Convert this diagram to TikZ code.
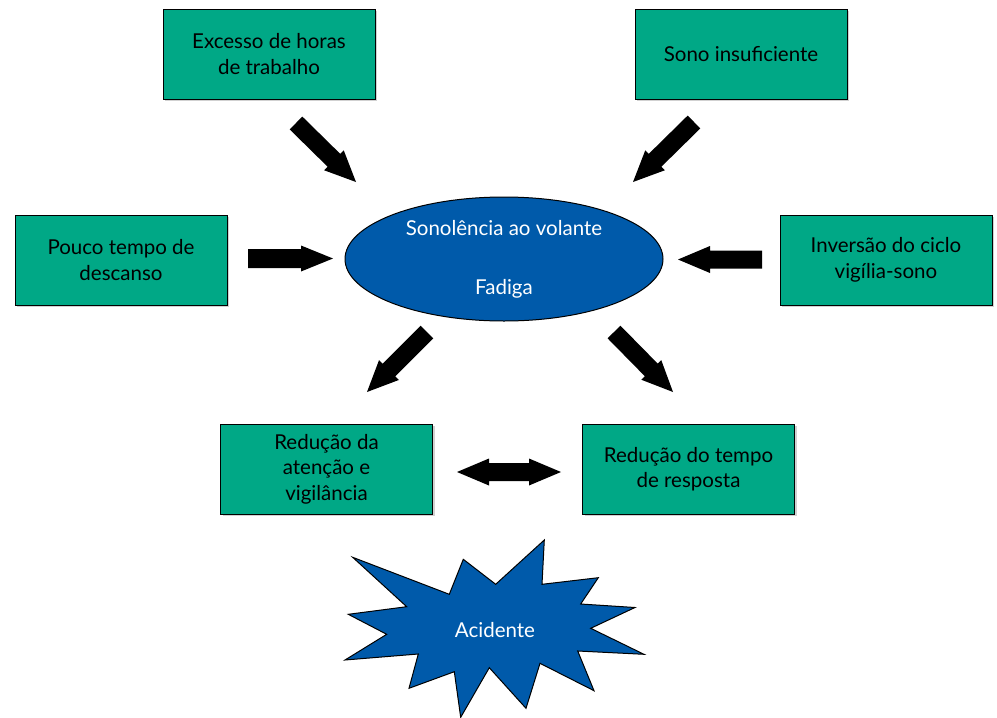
\documentclass[tikz,border=0pt]{standalone}
\usepackage{fontspec}
\setmainfont{Lato}
\usetikzlibrary{calc,shapes.geometric,shadows}
\definecolor{boxteal}{RGB}{0,168,134}
\definecolor{boxblue}{RGB}{0,90,170}
\tikzset{
  causebox/.style={draw=black, line width=1pt, fill=boxteal, minimum width=212pt,
    minimum height=90pt, align=center, text=black, inner sep=2pt,
    font=\fontsize{20.5}{25.5}\selectfont,
    drop shadow={shadow xshift=2pt, shadow yshift=-2pt, fill=black!18, opacity=1}},
  whitetxt/.style={text=white, font=\fontsize{20.5}{25}\selectfont},
}
\newcommand{\barrow}[5]{%
  \coordinate (hb) at ($(#2)!#5!(#1)$);
  \fill[black] ($(#1)!#3!90:(#2)$) -- ($(hb)!#3!90:(#2)$) -- ($(hb)!#4!90:(#2)$)
    -- (#2) -- ($(hb)!#4!-90:(#2)$) -- ($(hb)!#3!-90:(#2)$) -- ($(#1)!#3!-90:(#2)$) -- cycle;}
\begin{document}
\begin{tikzpicture}[x=1pt,y=-1pt]
\useasboundingbox (0,0) rectangle (997,718);
% boxes
\node[causebox] (b1) at (269,54) {Excesso de horas\\de trabalho};
\node[causebox] (b2) at (741,54) {Sono insuficiente};
\node[causebox] (b3) at (121,260) {Pouco tempo de\\descanso};
\node[causebox] (b4) at (886,260) {Inversão do ciclo\\vigília-sono};
\node[causebox] (b5) at (326.5,469) {Redução da\\atenção e\\vigilância};
\node[causebox] (b6) at (688.5,469) {Redução do tempo\\de resposta};
% ellipse
\node[ellipse, draw=black, line width=1pt, fill=boxblue, minimum width=318pt, minimum height=124pt] (ell) at (504,259) {};
\node[whitetxt] (t1) at (504,228) {Sonolência ao volante};
\node[whitetxt] (t2) at (504,289) {Fadiga};
% starburst
\draw[line width=1pt, fill=boxblue, line join=miter]
  (352.7,557.3) -- (449.3,594.3) -- (463.3,559.3) -- (495.7,584.3) -- (544.3,540)
  -- (542,584.3) -- (598.3,577.7) -- (580.7,604) -- (635,607.5) -- (590.7,628.3)
  -- (644,654.3) -- (577.7,651) -- (594,690.7) -- (540,663.3) -- (526,708.3)
  -- (489.3,667.7) -- (460.7,717.3) -- (454.3,671.7) -- (409,688.3) -- (418.3,654)
  -- (345,660) -- (386.7,634.3) -- (348.3,614.3) -- (406.7,606.7) -- cycle;
\node[whitetxt] (acc) at (495,630) {Acidente};
% arrow end points
\coordinate (a1s) at (296,123);  \coordinate (a1e) at (356,182);
\coordinate (a2s) at (694,122);  \coordinate (a2e) at (633,182);
\coordinate (a3s) at (248,258.5); \coordinate (a3e) at (333,258.5);
\coordinate (a4s) at (762,259.5); \coordinate (a4e) at (678,259.5);
\coordinate (a5s) at (427,332);  \coordinate (a5e) at (367,392);
\coordinate (a6s) at (614,332);  \coordinate (a6e) at (673,392);
\coordinate (dl) at (457,472); \coordinate (dr) at (561,472);
\barrow{a1s}{a1e}{9pt}{14pt}{31pt}
\barrow{a2s}{a2e}{9pt}{14pt}{31pt}
\barrow{a3s}{a3e}{9.5pt}{13pt}{32pt}
\barrow{a4s}{a4e}{9pt}{13.5pt}{32pt}
\barrow{a5s}{a5e}{9pt}{14pt}{31pt}
\barrow{a6s}{a6e}{9pt}{14pt}{31pt}
% double arrow
\coordinate (dlb) at ($(dl)!32pt!(dr)$);
\coordinate (drb) at ($(dr)!32pt!(dl)$);
\fill[black] (dl) -- ($(dlb)+(0,-13.5)$) -- ($(dlb)+(0,-9)$) -- ($(drb)+(0,-9)$) -- ($(drb)+(0,-13.5)$)
  -- (dr) -- ($(drb)+(0,13.5)$) -- ($(drb)+(0,9)$) -- ($(dlb)+(0,9)$) -- ($(dlb)+(0,13.5)$) -- cycle;
\end{tikzpicture}
\end{document}
